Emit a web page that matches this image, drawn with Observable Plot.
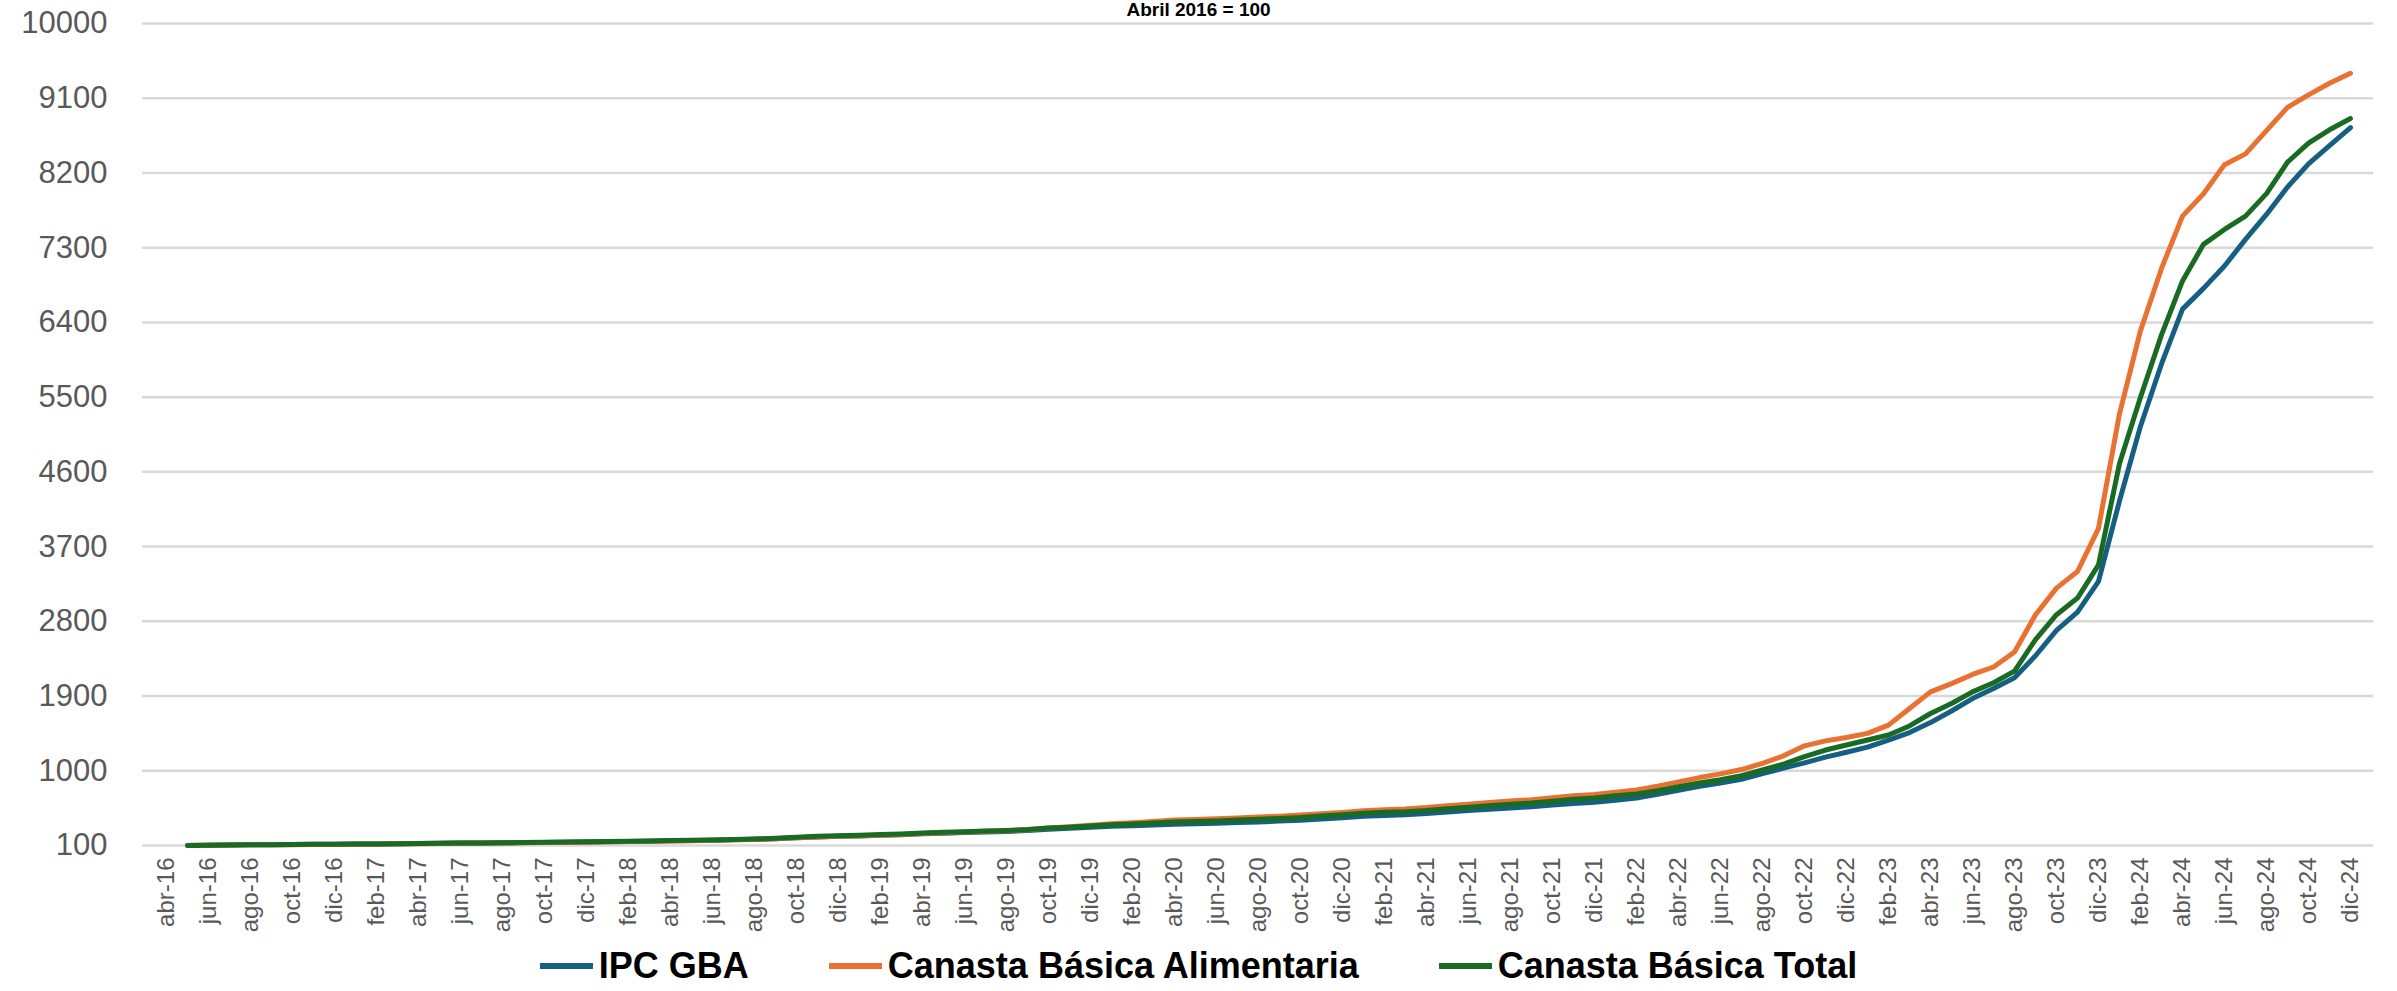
<!DOCTYPE html>
<html>
<head>
<meta charset="utf-8">
<script src="https://cdn.jsdelivr.net/npm/d3@7"></script>
<script src="https://cdn.jsdelivr.net/npm/@observablehq/plot@0.6"></script>
<style>
  html, body { margin: 0; padding: 0; background: #ffffff; overflow: hidden; }
  #wrap { position: relative; width: 2397px; height: 991px; overflow: hidden; background: #fff; }
  #title { position: absolute; left: 0; width: 2397px; top: 0px; text-align: center;
           font-family: "Liberation Sans", Arial, sans-serif; font-weight: bold; font-size: 19px;
           line-height: 20px; color: #000; }
  #chart { position: absolute; left: 0; top: 0; }
  #legend { position: absolute; left: 0; top: 946px; width: 2397px; display: flex; justify-content: center;
            align-items: center; font-family: "Liberation Sans", Arial, sans-serif; font-weight: bold;
            font-size: 36px; line-height: 40px; color: #000; }
  .item { display: flex; align-items: center; margin: 0 40px; }
  .swatch { width: 53px; height: 6px; margin-right: 6px; }
</style>
</head>
<body>
<div id="wrap">
  <div id="chart"></div>
  <div id="title"></div>
  <div id="legend"></div>
</div>
<script>
const titleText = "Abril 2016 = 100";

const categories = [
  "abr-16","may-16","jun-16","jul-16","ago-16","sep-16","oct-16","nov-16","dic-16",
  "ene-17","feb-17","mar-17","abr-17","may-17","jun-17","jul-17","ago-17","sep-17","oct-17","nov-17","dic-17",
  "ene-18","feb-18","mar-18","abr-18","may-18","jun-18","jul-18","ago-18","sep-18","oct-18","nov-18","dic-18",
  "ene-19","feb-19","mar-19","abr-19","may-19","jun-19","jul-19","ago-19","sep-19","oct-19","nov-19","dic-19",
  "ene-20","feb-20","mar-20","abr-20","may-20","jun-20","jul-20","ago-20","sep-20","oct-20","nov-20","dic-20",
  "ene-21","feb-21","mar-21","abr-21","may-21","jun-21","jul-21","ago-21","sep-21","oct-21","nov-21","dic-21",
  "ene-22","feb-22","mar-22","abr-22","may-22","jun-22","jul-22","ago-22","sep-22","oct-22","nov-22","dic-22",
  "ene-23","feb-23","mar-23","abr-23","may-23","jun-23","jul-23","ago-23","sep-23","oct-23","nov-23","dic-23",
  "ene-24","feb-24","mar-24","abr-24","may-24","jun-24","jul-24","ago-24","sep-24","oct-24","nov-24","dic-24"
];

const xTickLabels = [
  "abr-16","jun-16","ago-16","oct-16","dic-16","feb-17","abr-17","jun-17","ago-17","oct-17","dic-17",
  "feb-18","abr-18","jun-18","ago-18","oct-18","dic-18","feb-19","abr-19","jun-19","ago-19","oct-19","dic-19",
  "feb-20","abr-20","jun-20","ago-20","oct-20","dic-20","feb-21","abr-21","jun-21","ago-21","oct-21","dic-21",
  "feb-22","abr-22","jun-22","ago-22","oct-22","dic-22","feb-23","abr-23","jun-23","ago-23","oct-23","dic-23",
  "feb-24","abr-24","jun-24","ago-24","oct-24","dic-24"
];

const yTicks = [100, 1000, 1900, 2800, 3700, 4600, 5500, 6400, 7300, 8200, 9100, 10000];

const seriesNames = ["IPC GBA", "Canasta Básica Alimentaria", "Canasta Básica Total"];
const seriesColors = ["#156082", "#E97132", "#196B24"];

const ipcGBA = [null,
  100,104,107,110,110,111,114,115,117,118,
  121,124,127,129,131,133,135,137,140,142,
  146,149,152,156,160,163,169,174,181,193,
  203,210,215,222,230,241,249,257,264,270,
  280,297,307,320,332,339,346,357,363,368,
  376,384,394,405,420,434,451,462,470,484,
  504,520,537,553,567,587,607,622,646,671,
  718,766,812,853,898,965,
  1032,1096,1165,1223,1285,1370,1460,1580,1720,1870,
  1990,2120,2385,2690,2910,3280,4250,5150,5900,6560,
  6810,7080,7400,7700,8030,8310,8530,8747];

const cba = [null,
  100,103,106,108,109,110,112,113,115,116,
  119,122,125,127,129,131,133,135,137,140,
  144,147,150,154,158,162,168,173,181,193,
  203,210,216,224,233,245,254,263,271,279,
  291,312,326,344,361,375,389,406,414,423,
  432,442,453,466,483,499,519,531,541,557,
  580,598,618,636,652,675,698,715,743,770,
  815,866,918,963,1015,1090,
  1180,1300,1360,1400,1450,1550,1750,1950,2050,2160,
  2250,2430,2880,3200,3400,3920,5300,6300,7050,7680,
  7950,8300,8430,8710,8990,9140,9280,9400];

const cbt = [null,
  100,104,107,110,110,111,114,115,117,118,
  121,124,127,129,131,133,136,138,141,144,
  149,152,155,159,163,167,173,178,186,199,
  210,218,223,231,239,251,259,267,275,281,
  292,310,321,336,350,360,370,383,390,396,
  406,415,426,437,454,469,487,499,508,523,
  544,562,580,597,612,634,656,672,698,720,
  760,808,853,893,940,1010,
  1080,1170,1250,1310,1370,1431,1540,1690,1810,1950,
  2060,2200,2580,2880,3080,3480,4700,5500,6250,6900,
  7340,7520,7680,7951,8330,8560,8720,8855];

const seriesValues = [ipcGBA, cba, cbt];

const rows = [];
seriesNames.forEach((name, s) => {
  categories.forEach((m, i) => {
    rows.push({ month: m, value: seriesValues[s][i], series: name });
  });
});

const chart = Plot.plot({
  width: 2397,
  height: 946,
  marginLeft: 142,
  marginRight: 24,
  marginTop: 23,
  marginBottom: 101,
  style: { fontFamily: "'Liberation Sans', Arial, sans-serif", background: "#ffffff", overflow: "visible" },
  x: { type: "point", domain: categories, padding: 0.5 },
  y: { domain: [100, 10000] },
  color: { domain: seriesNames, range: seriesColors },
  marks: [
    Plot.ruleY(yTicks, { stroke: "#d9d9d9", strokeWidth: 2.5 }),
    Plot.axisY({ ticks: yTicks, tickSize: 0, tickPadding: 35, fontSize: 31, fill: "#595959",
                 label: null, tickFormat: d => String(d) }),
    Plot.axisX({ ticks: xTickLabels, tickSize: 0, tickRotate: -90, tickPadding: 12, fontSize: 24,
                 fill: "#595959", label: null }),
    Plot.line(rows, { x: "month", y: "value", z: "series", stroke: "series", strokeWidth: 5,
                      strokeLinejoin: "round", strokeLinecap: "round" })
  ]
});
document.getElementById("chart").appendChild(chart);

document.getElementById("title").textContent = titleText;

const legend = document.getElementById("legend");
seriesNames.forEach((name, i) => {
  const item = document.createElement("div");
  item.className = "item";
  const sw = document.createElement("div");
  sw.className = "swatch";
  sw.style.background = seriesColors[i];
  const tx = document.createElement("span");
  tx.textContent = name;
  item.appendChild(sw);
  item.appendChild(tx);
  legend.appendChild(item);
});
</script>
</body>
</html>
